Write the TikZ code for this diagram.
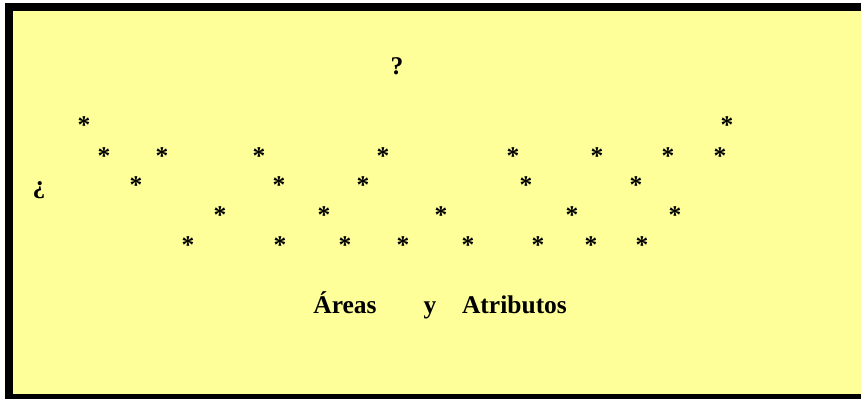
\documentclass[tikz,border=0pt]{standalone}
\usepackage{fontspec}
\setmainfont{Liberation Serif}
\definecolor{paper}{HTML}{FFFF99}
\begin{document}
\begin{tikzpicture}[x=1pt,y=-1pt,
  txt/.style={inner sep=0pt, anchor=base, font=\fontsize{25.5}{30}\selectfont\bfseries}]
\useasboundingbox (0,0) rectangle (861,399);
\fill[white] (0,0) rectangle (861,399);
\fill[black] (5,3) rectangle (861,399);
\fill[paper] (13,11) rectangle (861,394);
\node[txt] (q) at (397,74) {?};
\node[txt] (iq) at (39,193) {¿};
\foreach \x [count=\i] in {84,727}
  \node[txt] (ra\i) at (\x,133) {*};
\foreach \x [count=\i] in {104,162,259,383,513,597,668,720}
  \node[txt] (rb\i) at (\x,164) {*};
\foreach \x [count=\i] in {136,279,363,526,636}
  \node[txt] (rc\i) at (\x,193) {*};
\foreach \x [count=\i] in {220,324,441,572,675}
  \node[txt] (rd\i) at (\x,223) {*};
\foreach \x [count=\i] in {188,280,345,403,468,538,591,642}
  \node[txt] (re\i) at (\x,253) {*};
\node[txt] (areas) at (345,313) {Áreas};
\node[txt] (y) at (430,313) {y};
\node[txt] (atr) at (514.5,313) {Atributos};
\end{tikzpicture}
\end{document}
